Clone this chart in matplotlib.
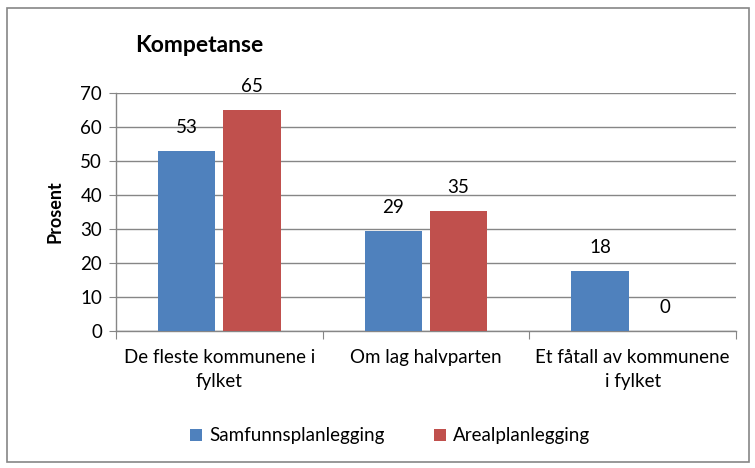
import matplotlib
matplotlib.use("Agg")
import matplotlib.pyplot as plt
from matplotlib.patches import Rectangle
import numpy as np

categories = ["De fleste kommunene i\nfylket", "Om lag halvparten", "Et fåtall av kommunene\ni fylket"]
series_names = ["Samfunnsplanlegging", "Arealplanlegging"]
samfunn = [52.9, 29.4, 17.6]
areal = [65.0, 35.3, 0.0]
yticks = [0, 10, 20, 30, 40, 50, 60, 70]
colors = ["#4F81BD", "#C0504D"]

plt.rcParams['font.family'] = ['Lato', 'DejaVu Sans']

W, H = 755, 468
fig = plt.figure(figsize=(W/100, H/100), dpi=100)
fig.patch.set_facecolor("white")
# outer border
fig.add_artist(Rectangle((7/W, 1-462/H), (749-7)/W, (462-8)/H, transform=fig.transFigure,
                         fill=False, edgecolor="#868686", linewidth=1.2))

ax = fig.add_axes([116/W, 1-331/H, (736-116)/W, (331-93)/H])
x = np.arange(len(categories))
bw = 0.276
gap = 0.04
b1 = ax.bar(x - bw/2 - gap/2, samfunn, width=bw, color=colors[0], label=series_names[0], zorder=3)
b2 = ax.bar(x + bw/2 + gap/2, areal, width=bw, color=colors[1], label=series_names[1], zorder=3)
for bars, vals in ((b1, samfunn), (b2, areal)):
    for r, v in zip(bars, vals):
        ax.text(r.get_x() + r.get_width()/2, v + 7.0, f"{round(v):d}", ha="center", va="center",
                fontsize=13.5, color="black")

ax.set_xlim(-0.5, len(categories) - 0.5)
ax.set_ylim(0, 70)
ax.set_yticks(yticks)
ax.set_yticklabels([str(t) for t in yticks], fontsize=13.5)
ax.yaxis.grid(True, color="#868686", linewidth=1, zorder=0)
ax.set_axisbelow(True)
for s in ("top", "right"):
    ax.spines[s].set_visible(False)
for s in ("left", "bottom"):
    ax.spines[s].set_color("#868686")
    ax.spines[s].set_linewidth(1)
ax.tick_params(axis="y", length=5, color="#868686", pad=5)
ax.set_xticks(np.arange(len(categories) + 1) - 0.5)
ax.set_xticklabels([])
ax.tick_params(axis="x", length=6, color="#868686")
for i, c in enumerate(categories):
    ax.text(i, -5.2, c, ha="center", va="top", fontsize=13.5, linespacing=1.5,
            transform=ax.transData)

ax.set_ylabel("Prosent", fontsize=13, fontweight="bold", labelpad=12)
fig.text(135/W, 1-45/H, "Kompetanse", fontsize=16.5, fontweight="bold", ha="left", va="center")

leg = fig.legend(handles=[b1, b2], labels=series_names, loc="center", bbox_to_anchor=(390/W, 1-436/H),
                 ncol=2, frameon=False, fontsize=13.5, handlelength=0.65, handleheight=0.65,
                 columnspacing=2.6, handletextpad=0.4)

fig.savefig("out.png", dpi=100)
